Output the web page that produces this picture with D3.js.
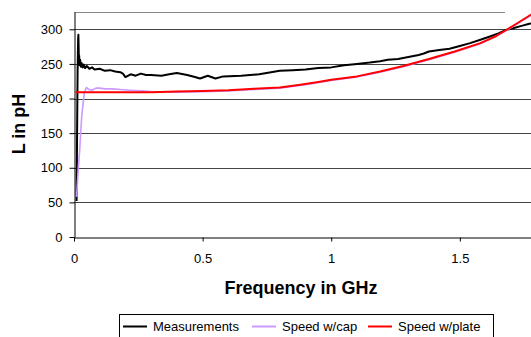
<!DOCTYPE html>
<html>
<head>
<meta charset="utf-8">
<script src="https://cdn.jsdelivr.net/npm/d3@7"></script>
<style>
  html, body { margin: 0; padding: 0; background: #fff; overflow: hidden; }
  svg { display: block; font-family: Arial, "Liberation Sans", sans-serif; }
</style>
</head>
<body>
<svg id="chart" width="531" height="337"></svg>
<script>
// frequency in GHz, inductance in pH
const measFreq = [0.010, 0.012, 0.014, 0.016, 0.017, 0.018, 0.019, 0.020, 0.022, 0.024, 0.027, 0.030, 0.034, 0.038, 0.043,
    0.05, 0.06, 0.07, 0.08, 0.10, 0.12, 0.14, 0.16, 0.18, 0.19, 0.20, 0.22, 0.24, 0.26, 0.28, 0.30, 0.34, 0.37,
    0.40, 0.44, 0.47, 0.49, 0.52, 0.55, 0.58, 0.65, 0.72, 0.80, 0.85, 0.90, 0.95, 1.00, 1.05, 1.10, 1.15, 1.19,
    1.22, 1.26, 1.30, 1.34, 1.36, 1.38, 1.42, 1.46, 1.50, 1.54, 1.58, 1.62, 1.65, 1.68, 1.71, 1.74, 1.77, 1.80];
const measL = [52, 150, 240, 285, 292, 275, 255, 262, 248, 256, 246, 251, 245, 249, 244,
    247, 243, 245, 242, 243, 240, 241, 239, 238, 236, 231, 235, 233, 236, 234, 234, 233, 235,
    237, 234, 231, 229, 233, 229, 232, 233, 235, 240, 241, 242, 244, 245, 248, 250, 252, 254,
    256, 257, 260, 263, 265, 268, 270, 272, 276, 280, 285, 290, 294, 299, 302, 305, 308, 309];

const capFreq = [0.010, 0.016, 0.022, 0.030, 0.040, 0.048, 0.058, 0.070, 0.085, 0.10, 0.12, 0.15, 0.18, 0.22, 0.26, 0.30,
    0.40, 0.50, 0.60, 0.70, 0.80, 0.90, 1.00, 1.10, 1.19, 1.28, 1.38, 1.48, 1.58, 1.68, 1.776, 1.80];
const capL = [58, 95, 125, 175, 208, 216, 213, 212, 215, 215, 214, 214, 213, 212, 211, 210,
    209, 210, 211, 213, 215, 220, 226, 231, 238, 246, 256, 267, 279, 298, 320, 326];

const plateFreq = [0.006, 0.1, 0.2, 0.3, 0.4, 0.5, 0.6, 0.7, 0.8, 0.88, 0.95, 1.0, 1.1, 1.19, 1.28, 1.38, 1.48, 1.58,
    1.64, 1.68, 1.72, 1.776, 1.80];
const plateL = [209, 209, 209, 209, 210, 211, 212, 214, 216, 220, 224, 227, 232, 239, 247, 257, 268, 280,
    290, 299, 308, 321, 327];

const seriesNames = ['Measurements', 'Speed w/cap', 'Speed w/plate'];
const seriesColors = ['#000000', '#cc99ff', '#ff0000'];
const xTicks = [0, 0.5, 1, 1.5];
const yTicks = [0, 50, 100, 150, 200, 250, 300];

const margin = {left: 74, top: 12};
const width = 463, height = 225;

const svg = d3.select('#chart');
const g = svg.append('g').attr('transform', `translate(${margin.left},${margin.top})`);

const x = d3.scaleLinear().domain([0, 1.8]).range([0, width]);
const y = d3.scaleLinear().domain([0, 325]).range([height, 0]);

// grid lines
g.append('g')
    .selectAll('line')
    .data(yTicks.slice(1))
    .enter()
    .append('line')
    .attr('x1', 0)
    .attr('x2', width)
    .attr('y1', d => Math.round(y(d)) + 0.5)
    .attr('y2', d => Math.round(y(d)) + 0.5)
    .attr('stroke', '#444')
    .attr('stroke-width', 1);

// top border of plot area
g.append('line')
    .attr('x1', 0).attr('x2', 431)
    .attr('y1', 0.5).attr('y2', 0.5)
    .attr('stroke', '#888');

// y axis
const yAxis = g.append('g')
    .attr('transform', 'translate(0.5,0)')
    .call(d3.axisLeft(y).tickValues(yTicks).tickSize(5).tickPadding(7).tickSizeOuter(0));
yAxis.select('.domain').attr('stroke', '#000');
yAxis.selectAll('.tick line').attr('stroke', '#000');
yAxis.selectAll('.tick text').attr('font-size', 13).attr('fill', '#000')
    .attr('font-family', 'Arial, "Liberation Sans", sans-serif');

// x axis
const xAxis = g.append('g')
    .attr('transform', `translate(0,${Math.round(height) + 0.5})`)
    .call(d3.axisBottom(x).tickValues(xTicks).tickFormat(d3.format('')).tickSize(4).tickSizeOuter(0));
xAxis.select('.domain').attr('stroke', '#000');
xAxis.selectAll('.tick line').attr('stroke', '#000');
xAxis.selectAll('.tick text').attr('font-size', 13).attr('fill', '#000')
    .attr('font-family', 'Arial, "Liberation Sans", sans-serif')
    .attr('dy', 0).attr('y', 25);

// lines
svg.append('defs').append('clipPath').attr('id', 'plot')
    .append('rect').attr('x', 0).attr('y', 0).attr('width', width).attr('height', height);

const line = d3.line().x(d => x(d[0])).y(d => y(d[1]));
const seriesData = [
    d3.zip(measFreq, measL),
    d3.zip(capFreq, capL),
    d3.zip(plateFreq, plateL)
];
const strokeWidths = [2, 1.6, 2];

g.append('g')
    .attr('clip-path', 'url(#plot)')
    .selectAll('path')
    .data(seriesData)
    .enter()
    .append('path')
    .attr('d', line)
    .attr('fill', 'none')
    .attr('stroke', (d, i) => seriesColors[i])
    .attr('stroke-width', (d, i) => strokeWidths[i])
    .attr('stroke-linejoin', 'round');

// axis titles
svg.append('text')
    .attr('x', 301)
    .attr('y', 294)
    .attr('text-anchor', 'middle')
    .attr('font-size', 18)
    .attr('font-weight', 'bold')
    .text('Frequency in GHz');

svg.append('text')
    .attr('transform', 'translate(25,124) rotate(-90)')
    .attr('text-anchor', 'middle')
    .attr('font-size', 18)
    .attr('font-weight', 'bold')
    .text('L in pH');

// legend
const legend = svg.append('g');
legend.append('rect')
    .attr('x', 119.5).attr('y', 314.5)
    .attr('width', 374).attr('height', 30)
    .attr('fill', '#fff').attr('stroke', '#000');

const legendX = [123, 252, 368];
const items = legend.selectAll('.item')
    .data(seriesNames)
    .enter()
    .append('g')
    .classed('item', true)
    .attr('transform', (d, i) => `translate(${legendX[i]},0)`);
items.append('line')
    .attr('x1', 0).attr('x2', 24)
    .attr('y1', 326.5).attr('y2', 326.5)
    .attr('stroke', (d, i) => seriesColors[i])
    .attr('stroke-width', 2);
items.append('text')
    .attr('x', 30)
    .attr('y', 331)
    .attr('font-size', 13)
    .text(d => d);
</script>
</body>
</html>
